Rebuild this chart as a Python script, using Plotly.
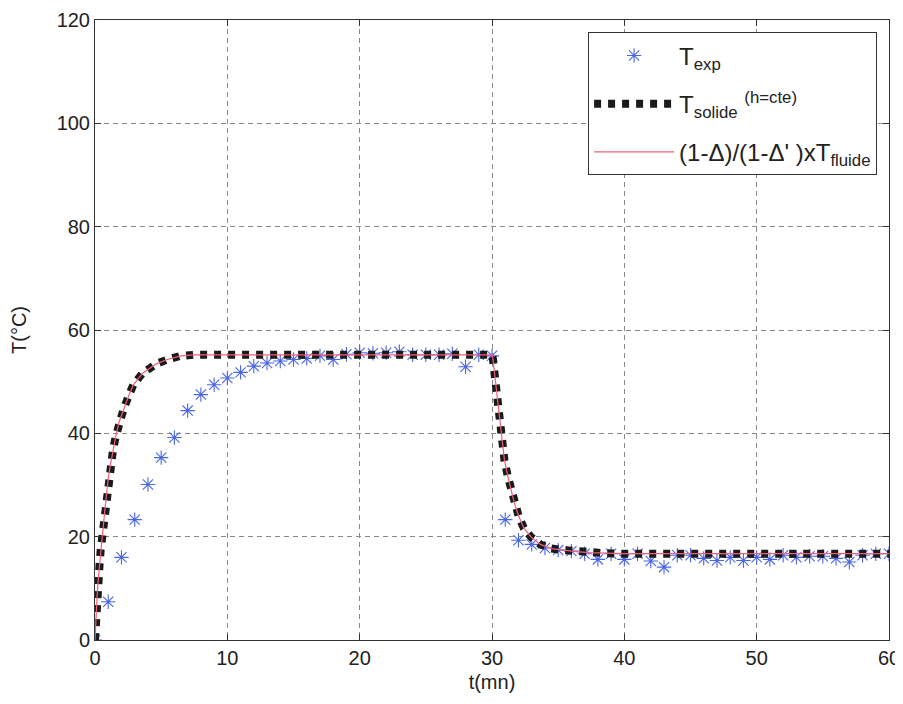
import plotly.graph_objects as go

# Experimental data (t in minutes, T in °C)
t_exp = list(range(0, 61))
T_exp = [0.0, 7.4, 16.0, 23.3, 30.1, 35.3, 39.2, 44.4, 47.5, 49.4,
         50.7, 51.8, 53.0, 53.6, 54.0, 54.3, 54.5, 55.0, 54.3, 55.3,
         55.6, 55.5, 55.6, 55.8, 55.2, 55.2, 55.2, 55.4, 52.9, 55.2,
         55.0, 23.3, 19.3, 18.5, 17.8, 17.4, 17.2, 16.7, 15.6, 16.7,
         15.6, 16.7, 15.3, 14.1, 16.4, 16.4, 15.8, 15.4, 16.0, 15.4,
         16.0, 15.6, 16.4, 16.0, 16.2, 16.2, 15.8, 15.1, 16.4, 16.7,
         16.7]

# Model curve
t_model = [0.0, 0.05, 0.1, 0.17, 0.25, 0.35, 0.43, 0.55, 0.63, 0.76,
           0.88, 1.0, 1.18, 1.36, 1.56, 1.81, 2.14, 2.52, 2.9, 3.58,
           4.59, 5.47, 6.48, 7.48, 10.0, 15.0, 20.0, 25.0, 30.0,
           30.06, 30.18, 30.31, 30.44, 30.56, 30.69, 30.82, 30.94, 31.2,
           31.44, 31.69, 32.0, 32.4, 32.96, 33.66, 34.47, 35.35, 36.36,
           37.36, 38.5, 40.0, 45.0, 50.0, 55.0, 60.0]
T_solide = [0.0, 3.5, 6.5, 9.0, 11.9, 14.8, 17.5, 20.1, 22.9, 25.6,
            28.4, 31.3, 34.1, 36.8, 39.3, 42.1, 44.5, 47.1, 49.4, 51.6,
            53.4, 54.3, 55.0, 55.2, 55.2, 55.2, 55.2, 55.2, 55.2,
            54.6, 51.8, 48.8, 46.1, 43.4, 40.6, 37.9, 34.8, 31.6,
            29.0, 26.5, 24.1, 21.7, 19.9, 18.5, 17.7, 17.4, 17.1,
            16.9, 16.8, 16.7, 16.7, 16.7, 16.7, 16.7]
T_fluide_corr = list(T_solide)

x_ticks = [0, 10, 20, 30, 40, 50, 60]
y_ticks = [0, 20, 40, 60, 80, 100, 120]

FONT = "Liberation Sans"

fig = go.Figure()
fig.add_trace(go.Scatter(
    x=t_exp, y=T_exp, mode="markers", name="T<sub>exp</sub>",
    legendgroup="a",
    marker=dict(symbol="asterisk-open", size=12,
                line=dict(color="#4a66e8", width=1.1), color="#4a66e8"),
))
fig.add_trace(go.Scatter(
    x=t_model, y=T_solide, mode="lines",
    name="T<sub>solide</sub> <sup>(h=cte)</sup>",
    legendgroup="b",
    line=dict(color="#1a1a1a", width=8, dash="7px,7px"),
))
fig.add_trace(go.Scatter(
    x=t_model, y=T_fluide_corr, mode="lines",
    name="(1-Δ)/(1-Δ' )xT<sub>fluide</sub>",
    legendgroup="c",
    line=dict(color="#f0607a", width=1.2),
))

axis_common = dict(
    showgrid=True, gridcolor="#8a8a8a", griddash="5px,4px", gridwidth=1,
    showline=True, linecolor="#333333", linewidth=1, mirror="ticks",
    ticks="inside", ticklen=6, tickcolor="#333333",
    tickfont=dict(size=20, color="#222222", family=FONT),
    zeroline=False, automargin=False,
)

fig.update_layout(
    width=895, height=696,
    paper_bgcolor="white", plot_bgcolor="white",
    margin=dict(l=87, r=14, t=12, b=64, autoexpand=False),
    font=dict(family=FONT, color="#222222"),
    xaxis=dict(range=[0, 60], tickvals=x_ticks,
               title=dict(text="t(mn)", font=dict(size=20, family=FONT),
                          standoff=6),
               **axis_common),
    yaxis=dict(range=[0, 120], tickvals=y_ticks,
               title=dict(text="T(°C)", font=dict(size=20, family=FONT),
                          standoff=30),
               **axis_common),
    legend=dict(x=0.985, y=0.98, xanchor="right", yanchor="top",
                bgcolor="white", bordercolor="#333333", borderwidth=1,
                font=dict(size=24, family=FONT, color="#222222"),
                itemwidth=80, tracegroupgap=14),
    showlegend=True,
)

fig.write_html("out.html")
